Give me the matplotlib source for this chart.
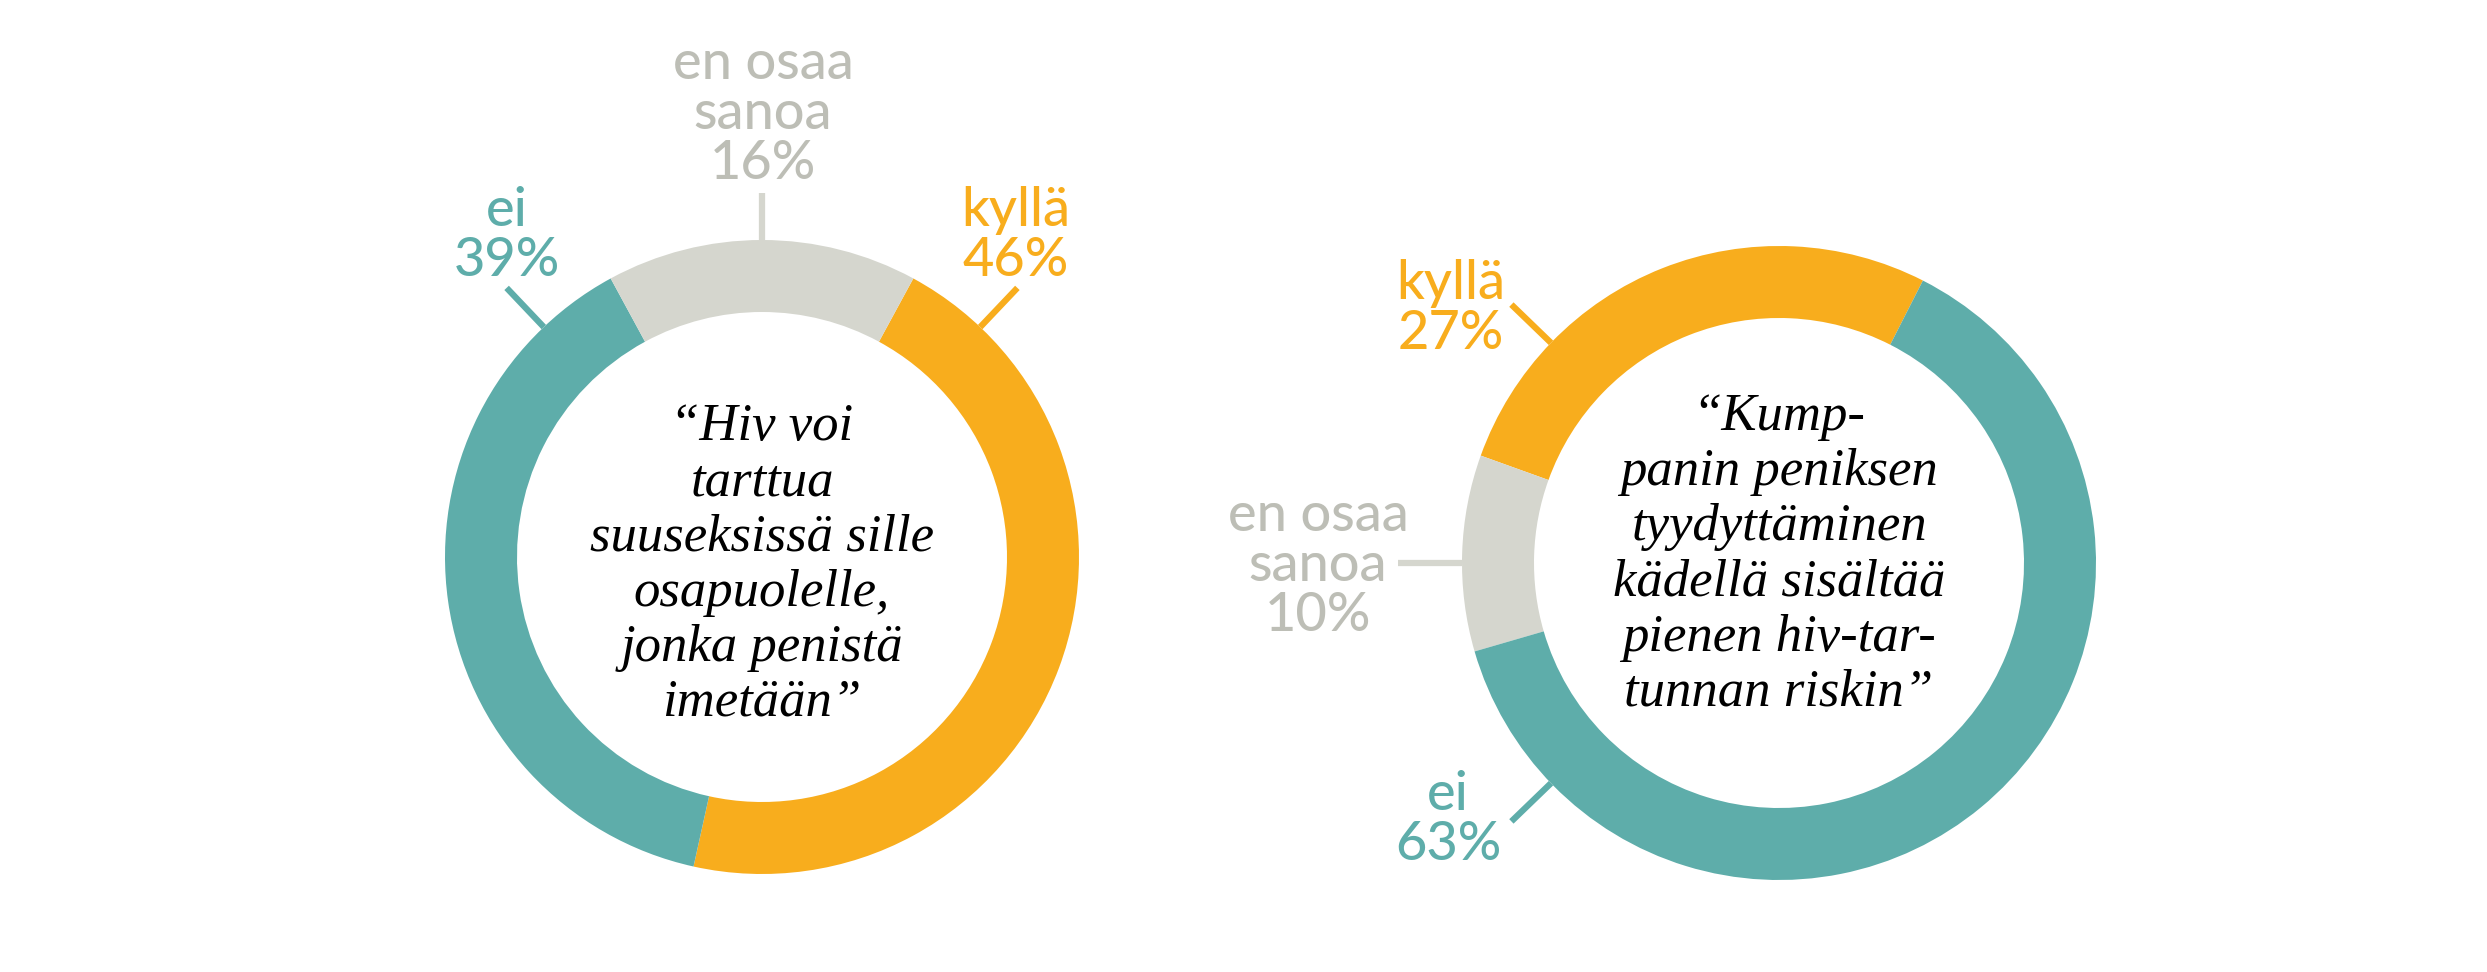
import numpy as np
import matplotlib.pyplot as plt

# answers, survey 1 (left) and survey 2 (right)
labels_left = ["kyllä", "ei", "en osaa\nsanoa"]
values_left = [46, 39, 16]
labels_right = ["kyllä", "en osaa\nsanoa", "ei"]
values_right = [27, 10, 63]

question_left = "“Hiv voi\ntarttua\nsuuseksissä sille\nosapuolelle,\njonka penistä\nimetään”"
question_right = "“Kump-\npanin peniksen\ntyydyttäminen\nkädellä sisältää\npienen hiv-tar-\ntunnan riskin”"

TEAL = "#5eadaa"
ORANGE = "#f8ad1d"
GRAY = "#d5d6ce"
GRAY_TXT = "#bdbeb6"

W, H = 2487, 972
R, RING = 317, 72

fig = plt.figure(figsize=(W / 100, H / 100), dpi=100)
ax = fig.add_axes([0, 0, 1, 1])


def donut(cx, cy, values, colors, start, counterclock):
    ax.pie(values, colors=colors, center=(cx, H - cy), radius=R,
           startangle=start, counterclock=counterclock,
           wedgeprops=dict(width=RING, linewidth=0))


def leader(cx, cy, ang, r1, color):
    a = np.deg2rad(ang)
    xs = [cx + R * np.cos(a), cx + r1 * np.cos(a)]
    ys = [H - cy + R * np.sin(a), H - cy + r1 * np.sin(a)]
    ax.plot(xs, ys, color=color, lw=4.5, solid_capstyle='butt')


def label(x, y, txt, color):
    # y = baseline of the last line (the percentage)
    ax.text(x, H - y, txt, color=color, fontsize=39, family='Lato',
            weight='medium', ha='center', va='baseline', linespacing=1.02)


def question(x, y, txt):
    ax.text(x, H - y, txt, fontsize=38, family='Liberation Serif',
            style='italic', ha='center', va='center', linespacing=1.19)


# left donut: grey slice centred on top
lcx, lcy = 762, 557
gray_share = values_left[2] / sum(values_left) * 360
donut(lcx, lcy, values_left, [ORANGE, TEAL, GRAY], 90 - gray_share / 2, False)
leader(lcx, lcy, 90, 364, GRAY)
leader(lcx, lcy, 133.5, 371, TEAL)
leader(lcx, lcy, 46.5, 371, ORANGE)
label(763, 179, labels_left[2] + "\n%d%%" % values_left[2], GRAY_TXT)
label(507, 276, labels_left[1] + "\n%d%%" % values_left[1], TEAL)
label(1016, 276, labels_left[0] + "\n%d%%" % values_left[0], ORANGE)
question(lcx, lcy + 8, question_left)

# right donut
rcx, rcy = 1779, 563
donut(rcx, rcy, values_right, [ORANGE, GRAY, TEAL], 63, True)
leader(rcx, rcy, 136, 372, ORANGE)
leader(rcx, rcy, 180, 381, GRAY)
leader(rcx, rcy, 224, 372, TEAL)
label(1451, 349, labels_right[0] + "\n%d%%" % values_right[0], ORANGE)
label(1318, 631, labels_right[1] + "\n%d%%" % values_right[1], GRAY_TXT)
label(1448, 860, labels_right[2] + "\n%d%%" % values_right[2], TEAL)
question(rcx, rcy - 8, question_right)

ax.set_xlim(0, W)
ax.set_ylim(0, H)
ax.set_aspect('equal')
ax.axis('off')

fig.savefig('out.png', dpi=100, facecolor='white')
